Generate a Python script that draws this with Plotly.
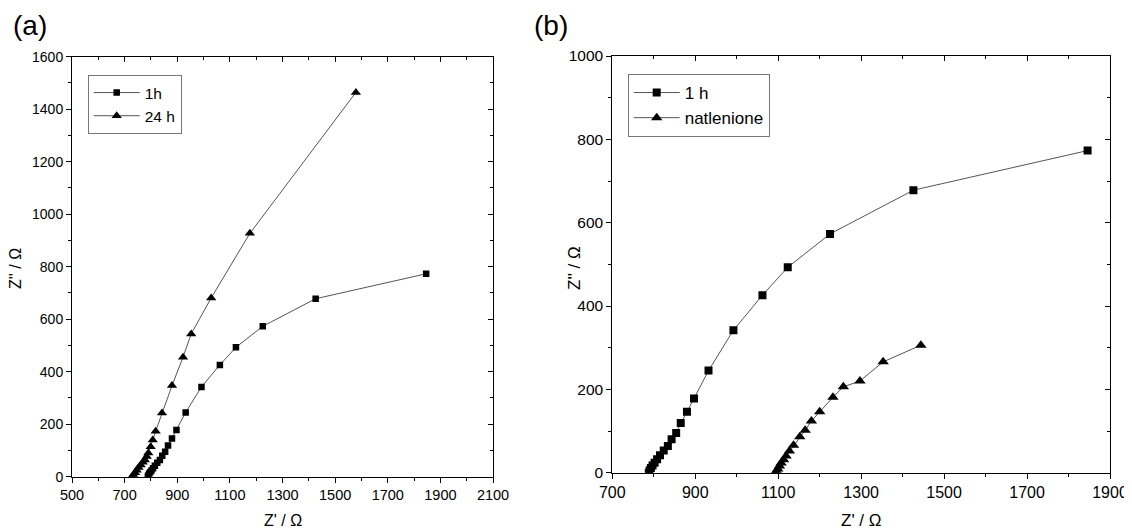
import plotly.graph_objects as go

# ---- data ----
h1_x = [788, 790, 793, 797, 802, 808, 815, 824, 834, 843, 854, 865, 880, 897, 932, 992, 1062, 1123, 1225, 1426, 1846]
h1_y = [0, 5, 11, 17, 24, 32, 42, 53, 64, 80, 95, 119, 146, 178, 245, 342, 426, 493, 573, 678, 773]

h24_x = [728, 733, 740, 746, 753, 761, 769, 777, 784, 790, 799, 807, 818, 842, 880, 922, 953, 1029, 1176, 1579]
h24_y = [0, 7, 15, 25, 35, 45, 55, 64, 77, 90, 114, 140, 173, 243, 347, 455, 544, 681, 927, 1464]

nat_x = [1093, 1096, 1099, 1103, 1107, 1113, 1119, 1127, 1137, 1152, 1165, 1180, 1200, 1232, 1257, 1297, 1353, 1444]
nat_y = [0, 4, 9, 16, 23, 31, 40, 52, 66, 86, 102, 124, 146, 181, 206, 220, 266, 306]

names_a = ["1h", "24 h"]
names_b = ["1 h", "natlenione"]
axis_title_x = "Z' / \u03a9"
axis_title_y = "Z'' / \u03a9"
panel_labels = ["(a)", "(b)"]

FONT = "Liberation Sans, Arial, sans-serif"
LINE = "#555555"

# the page body adds an 8px margin, so the figure is drawn 8px smaller and
# every target pixel position is shifted by that offset
OFF = 8
W, H = 1132 - OFF, 531 - OFF

def px_x(p):
    return (p - OFF) / W

def px_y(p):
    return 1 - (p - OFF) / H

# plot areas in window pixels
ax_a = dict(x0=72, x1=493, y0=56.7, y1=476.7)
ax_b = dict(x0=612.3, x1=1110, y0=56, y1=472.7)

def dom_x(a):
    return [px_x(a["x0"]), px_x(a["x1"])]

def dom_y(a):
    return [px_y(a["y1"]), px_y(a["y0"])]

fig = go.Figure()

fig.add_trace(go.Scatter(x=h1_x, y=h1_y, name=names_a[0], mode="lines+markers",
                         line=dict(color=LINE, width=1),
                         marker=dict(symbol="square", size=6.5, color="black"),
                         xaxis="x", yaxis="y", legend="legend"))
fig.add_trace(go.Scatter(x=h24_x, y=h24_y, name=names_a[1], mode="lines+markers",
                         line=dict(color=LINE, width=1),
                         marker=dict(symbol="triangle-up", size=9, color="black"),
                         xaxis="x", yaxis="y", legend="legend"))
fig.add_trace(go.Scatter(x=h1_x, y=h1_y, name=names_b[0], mode="lines+markers",
                         line=dict(color=LINE, width=1),
                         marker=dict(symbol="square", size=8, color="black"),
                         xaxis="x2", yaxis="y2", legend="legend2"))
fig.add_trace(go.Scatter(x=nat_x, y=nat_y, name=names_b[1], mode="lines+markers",
                         line=dict(color=LINE, width=1),
                         marker=dict(symbol="triangle-up", size=10, color="black"),
                         xaxis="x2", yaxis="y2", legend="legend2"))

def main_axis(rng, dtick, dom, anchor, fsize):
    return dict(range=rng, dtick=dtick, tick0=rng[0], domain=dom, anchor=anchor, automargin=False,
                showgrid=False, zeroline=False, showline=True, linecolor="black", linewidth=1,
                mirror=True, ticks="outside", ticklen=5, tickcolor="black", tickwidth=1,
                minor=dict(dtick=dtick / 2, tick0=rng[0], ticks="outside", ticklen=3,
                           tickcolor="black", showgrid=False),
                tickfont=dict(family=FONT, size=fsize, color="black"))

def overlay_axis(rng, dtick, dom, anchor, over, side):
    return dict(range=rng, dtick=dtick, tick0=rng[0], domain=dom, anchor=anchor, overlaying=over, side=side,
                automargin=False,
                showgrid=False, zeroline=False, showline=False, showticklabels=False,
                ticks="inside", ticklen=5, tickcolor="black", tickwidth=1,
                minor=dict(dtick=dtick / 2, tick0=rng[0], ticks="inside", ticklen=3,
                           tickcolor="black", showgrid=False))

layout = dict(
    template="none",
    width=W, height=H, margin=dict(l=0, r=0, t=0, b=0, pad=0, autoexpand=False),
    paper_bgcolor="white", plot_bgcolor="white",
    xaxis=main_axis([500, 2100], 200, dom_x(ax_a), "y", 14.5),
    yaxis=main_axis([0, 1600], 200, dom_y(ax_a), "x", 14),
    xaxis2=main_axis([700, 1900], 200, dom_x(ax_b), "y2", 16),
    yaxis2=main_axis([0, 1000], 200, dom_y(ax_b), "x2", 15.5),
    xaxis3=overlay_axis([500, 2100], 200, dom_x(ax_a), "y", "x", "top"),
    yaxis3=overlay_axis([0, 1600], 200, dom_y(ax_a), "x", "y", "right"),
    xaxis4=overlay_axis([700, 1900], 200, dom_x(ax_b), "y2", "x2", "top"),
    yaxis4=overlay_axis([0, 1000], 200, dom_y(ax_b), "x2", "y2", "right"),
    legend=dict(x=px_x(87.7), y=px_y(75), xanchor="left", yanchor="top",
                bordercolor="#777777", borderwidth=1, bgcolor="white",
                font=dict(family=FONT, size=15.5, color="black"),
                tracegroupgap=0, itemwidth=46),
    legend2=dict(x=px_x(627.7), y=px_y(74), xanchor="left", yanchor="top",
                 bordercolor="#777777", borderwidth=1, bgcolor="white",
                 font=dict(family=FONT, size=17, color="black"),
                 tracegroupgap=0, itemwidth=46),
    showlegend=True,
)
fig.update_layout(**layout)

# invisible traces so overlay axes render
for xa, ya, rx, ry in [("x3", "y3", 500, 0), ("x4", "y4", 700, 0)]:
    fig.add_trace(go.Scatter(x=[rx], y=[ry], xaxis=xa, yaxis=ya, mode="markers",
                             marker=dict(opacity=0), showlegend=False, hoverinfo="skip"))

ann = []
ann.append(dict(text=axis_title_x, x=px_x((ax_a["x0"] + ax_a["x1"]) / 2), y=px_y(520),
                xref="paper", yref="paper", showarrow=False, xanchor="center", yanchor="middle",
                font=dict(family=FONT, size=16, color="black")))
ann.append(dict(text=axis_title_x, x=px_x((ax_b["x0"] + ax_b["x1"]) / 2), y=px_y(520),
                xref="paper", yref="paper", showarrow=False, xanchor="center", yanchor="middle",
                font=dict(family=FONT, size=17, color="black")))
ann.append(dict(text=axis_title_y, x=px_x(15), y=px_y(269), textangle=-90,
                xref="paper", yref="paper", showarrow=False, xanchor="center", yanchor="middle",
                font=dict(family=FONT, size=16, color="black")))
ann.append(dict(text=axis_title_y, x=px_x(574), y=px_y(268), textangle=-90,
                xref="paper", yref="paper", showarrow=False, xanchor="center", yanchor="middle",
                font=dict(family=FONT, size=17, color="black")))
ann.append(dict(text=panel_labels[0], x=px_x(30), y=px_y(25), xref="paper", yref="paper",
                showarrow=False, xanchor="center", yanchor="middle",
                font=dict(family=FONT, size=28, color="black")))
ann.append(dict(text=panel_labels[1], x=px_x(551), y=px_y(25), xref="paper", yref="paper",
                showarrow=False, xanchor="center", yanchor="middle",
                font=dict(family=FONT, size=28, color="black")))
fig.update_layout(annotations=ann)

fig.write_html("out.html")
